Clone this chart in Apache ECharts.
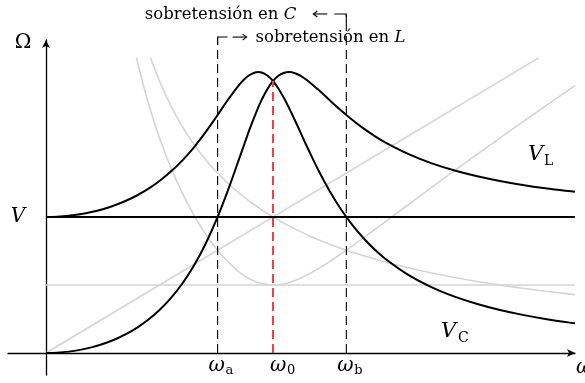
<!DOCTYPE html>
<html><head><meta charset="utf-8">
<script src="https://cdn.jsdelivr.net/npm/echarts@6/dist/echarts.min.js"></script>
<style>html,body{margin:0;padding:0;background:#fff}#c{width:585px;height:383px}</style>
</head><body><div id="c"></div>
<script>
// frequency in units of omega0, voltages in units of V (R = V/2 level)
const omega = [0,0.05,0.1,0.15,0.2,0.25,0.3,0.35,0.4,0.45,0.5,0.55,0.6,0.65,0.7,0.75,0.8,0.85,0.875,0.9,0.935,0.95,0.975,1,1.025,1.05,1.07,1.1,1.125,1.15,1.2,1.25,1.3,1.35,1.4,1.45,1.5,1.6,1.7,1.8,1.9,2,2.1,2.2,2.3,2.33];
const vL = [0,0.0025,0.0101,0.0230,0.0414,0.0661,0.0976,0.1369,0.1853,0.2444,0.3162,0.4035,0.5093,0.6376,0.7922,0.9762,1.1893,1.4235,1.5426,1.6583,1.8058,1.8612,1.9401,2,2.0401,2.0611,2.0656,2.0553,2.0346,2.0060,1.9354,1.8582,1.7828,1.7129,1.6497,1.5934,1.5435,1.4602,1.3946,1.3422,1.2997,1.2649,1.2360,1.2117,1.1911,1.1855];
const vC = [1,1.0022,1.0088,1.0200,1.0361,1.0573,1.0843,1.1176,1.1581,1.2068,1.2649,1.3338,1.4148,1.5091,1.6167,1.7354,1.8582,1.9702,2.0148,2.0472,2.0656,2.0622,2.0408,2,1.9418,1.8695,1.8042,1.6986,1.6076,1.5168,1.3440,1.1893,1.0549,0.9398,0.8417,0.7579,0.6860,0.5704,0.4826,0.4143,0.3600,0.3162,0.2803,0.2504,0.2252,0.2184];
const omegaZ = [0.398,0.45,0.5,0.55,0.6,0.65,0.7,0.75,0.8,0.85,0.9,0.95,1,1.05,1.1,1.15,1.2,1.25,1.3,1.35,1.4,1.45,1.5,1.6,1.7,1.8,1.9,2,2.1,2.2,2.3,2.33];
const zMag = [2.173,1.8414,1.5811,1.3632,1.1780,1.0195,0.8836,0.7683,0.6727,0.5971,0.5427,0.5104,0.5,0.5094,0.5352,0.5733,0.6200,0.6727,0.7292,0.7882,0.8487,0.9100,0.9718,1.0957,1.2190,1.3411,1.4619,1.5811,1.6991,1.8157,1.9311,1.9655];
const omegaXC = [0.4608,0.5,0.55,0.6,0.65,0.7,0.75,0.8,0.85,0.9,0.95,1,1.1,1.2,1.3,1.4,1.5,1.6,1.7,1.8,1.9,2,2.1,2.2,2.3,2.33];
const xC = [2.17,2,1.8182,1.6667,1.5385,1.4286,1.3333,1.25,1.1765,1.1111,1.0526,1,0.9091,0.8333,0.7692,0.7143,0.6667,0.625,0.5882,0.5556,0.5263,0.5,0.4762,0.4545,0.4348,0.4292];
const omegaXL = [0, 2.17];
const xL = [0, 2.17];
const omegaEnds = [0, 2.33];
const rLevel = [0.5, 0.5];
const vLevel = [1, 1];
const omegaA = 0.756, omega0 = 1, omegaB = 1.323;
const resonancePeak = 2;
const topA = 2.323, topB = 2.493;

const pairs = (xs, ys) => xs.map((x, i) => [x, ys[i]]);
const chart = echarts.init(document.getElementById('c'), null, {renderer: 'canvas'});
const GREY = '#d4d4d4';
const line = (data, color, width, extra) => Object.assign({
  type: 'line', data, showSymbol: false, smooth: 0.4, animation: false, silent: true,
  lineStyle: {color, width}, z: 2
}, extra || {});
const axisCommon = {
  type: 'value', splitLine: {show: false}, axisTick: {show: false}, axisLabel: {show: false},
  axisLine: {show: true, onZero: true, symbol: ['none', 'arrow'], symbolSize: [6, 8], lineStyle: {color: '#000', width: 1.3}}
};
chart.setOption({
  animation: false,
  grid: {left: 8, right: 10, top: 40, bottom: 8},
  xAxis: Object.assign({min: -0.1674, max: 2.3304}, axisCommon),
  yAxis: Object.assign({min: -0.16176, max: 2.30147}, axisCommon),
  series: [
    line(pairs(omegaXL, xL), GREY, 1.6, {smooth: false}),
    line(pairs(omegaZ, zMag), GREY, 1.6),
    line(pairs(omegaXC, xC), GREY, 1.6),
    line(pairs(omegaEnds, rLevel), GREY, 1.6, {smooth: false}),
    line(pairs(omegaEnds, vLevel), '#000', 1.8, {smooth: false, z: 3}),
    line(pairs(omega, vC), '#000', 2, {z: 4}),
    line(pairs(omega, vL), '#000', 2, {z: 4}),
    line([[omegaA, 0], [omegaA, topA]], '#000', 1.1, {smooth: false, clip: false, z: 5, lineStyle: {color: '#000', width: 1.1, type: [9, 5]}}),
    line([[omegaB, 0], [omegaB, topB]], '#000', 1.1, {smooth: false, clip: false, z: 5, lineStyle: {color: '#000', width: 1.1, type: [9, 5]}}),
    line([[omega0, 0], [omega0, resonancePeak]], '#ff3c3c', 2, {smooth: false, z: 5, lineStyle: {color: '#ff3c3c', width: 2, type: [9, 5]}})
  ]
});
const P = (x, y) => chart.convertToPixel({gridIndex: 0}, [x, y]);
const F = 'DejaVu Serif';
const txt = (text, x, y, size, opts) => ({type: 'text', x, y, silent: true, z: 10,
  style: Object.assign({text, fill: '#000', font: (opts && opts.italic ? 'italic ' : '') + size + 'px "' + F + '"',
    textAlign: (opts && opts.align) || 'left', textVerticalAlign: 'middle'}, (opts && opts.style) || {})});
const stroke = (points) => ({type: 'polyline', silent: true, z: 10, shape: {points}, style: {stroke: '#000', lineWidth: 1.1, fill: null}});
const arrow = (x1, x2, y) => {
  const d = x2 > x1 ? -1 : 1;
  return [stroke([[x1, y], [x2, y]]), stroke([[x2 + d * 4, y - 3], [x2, y], [x2 + d * 4, y + 3]])];
};
const [ax] = P(omegaA, 0), [x0] = P(omega0, 0), [bx] = P(omegaB, 0);
const [, baseY] = P(0, 0);
const [, ta] = P(omegaA, topA), [, tb] = P(omegaB, topB);
const labY = baseY + 13;
const ANN = 16.5;
chart.setOption({graphic: [
  txt('Ω', 23, 43, 20, {align: 'center'}),
  txt('V', 18, 217, 20, {italic: true, align: 'center'}),
  txt('ω', 576, labY + 2, 20, {italic: true}),
  txt('ω', ax - 9, labY, 20, {italic: true}), txt('a', ax + 8, labY + 5, 13),
  txt('ω', x0 - 3, labY, 20, {italic: true}), txt('0', x0 + 14, labY + 5, 13),
  txt('ω', bx - 9, labY, 20, {italic: true}), txt('b', bx + 8, labY + 5, 13),
  txt('V', 528, 155, 21, {italic: true}), txt('L', 544, 161, 14),
  txt('V', 441, 332, 21, {italic: true}), txt('C', 458, 338, 14),
  stroke([[ax, ta + 8], [ax, ta], [ax + 10, ta]]),
  stroke([[bx, tb + 8], [bx, tb], [bx - 12, tb]]),
  ...arrow(ax + 15, ax + 29, ta),
  ...arrow(bx - 19, bx - 33, tb),
  {type: 'text', x: ax + 38, y: ta + 1, silent: true, z: 10, style: {text: '{n|sobretensión en }{i|L}', textVerticalAlign: 'middle', rich: {n: {font: ANN + 'px "' + F + '"', fill: '#000'}, i: {font: 'italic ' + ANN + 'px "' + F + '"', fill: '#000'}}}},
  {type: 'text', x: bx - 50, y: tb + 1, silent: true, z: 10, style: {text: '{n|sobretensión en }{i|C}', textAlign: 'right', textVerticalAlign: 'middle', rich: {n: {font: ANN + 'px "' + F + '"', fill: '#000'}, i: {font: 'italic ' + ANN + 'px "' + F + '"', fill: '#000'}}}}
]});
</script></body></html>
